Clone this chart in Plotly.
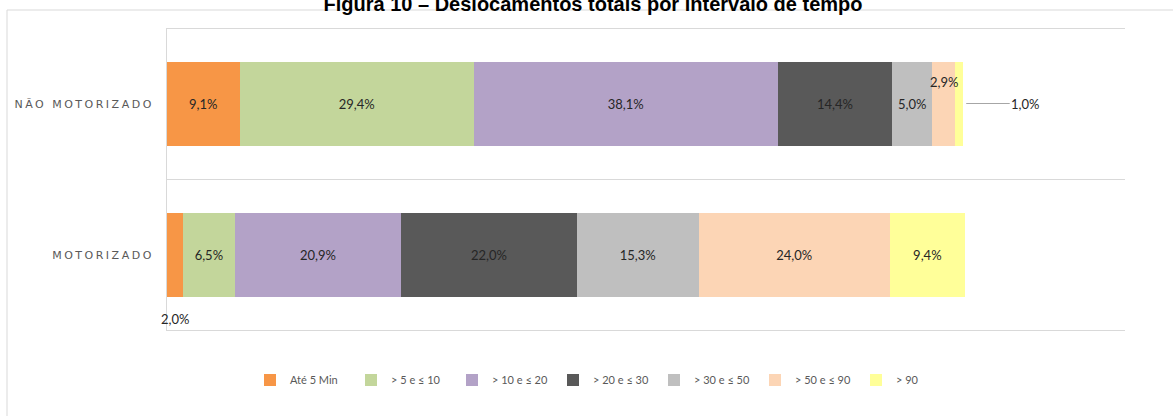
import plotly.graph_objects as go

# ---------------- data ----------------
title_text = "Figura 10 – Deslocamentos totais por intervalo de tempo"
categories = ["MOTORIZADO", "NÃO MOTORIZADO"]          # bottom -> top
series_names = ["Até 5 Min", "> 5 e ≤ 10", "> 10 e ≤ 20", "> 20 e ≤ 30",
                "> 30 e ≤ 50", "> 50 e ≤ 90", "> 90"]
motorizado = [2.0, 6.5, 20.9, 22.0, 15.3, 24.0, 9.4]
nao_motorizado = [9.1, 29.4, 38.1, 14.4, 5.0, 2.9, 1.0]
colors = ["#F79646", "#C3D69B", "#B3A2C7", "#595959", "#BFBFBF", "#FCD5B5", "#FFFF99"]

# labels placed outside their (thin) segments: (category index, series index) -> style
outside_labels = {
    (0, 0): dict(kind="below"),
    (1, 5): dict(kind="above"),
    (1, 6): dict(kind="right"),
}

values_by_cat = [motorizado, nao_motorizado]
ypos = list(range(len(categories)))


def fmt(v):
    return f"{v:.1f}%".replace(".", ",")


# ---------------- layout geometry (pixels) ----------------
W, H = 1173, 416
L, R, T, B = 167, 48, 29, 86
pw, ph = W - L - R, H - T - B

label_font = dict(family="Lato", size=13, color="#262626")

fig = go.Figure()
for j, name in enumerate(series_names):
    xs = [values_by_cat[i][j] for i in ypos]
    texts = ["" if (i, j) in outside_labels else fmt(values_by_cat[i][j]) for i in ypos]
    fig.add_trace(go.Bar(
        y=ypos, x=xs, orientation="h", name=name,
        marker=dict(color=colors[j], line=dict(width=0)),
        text=texts, textposition="inside", insidetextanchor="middle",
        textangle=0, constraintext="none",
        textfont=label_font,
        width=0.56,
    ))

annotations = []
for (i, j), st in outside_labels.items():
    vals = values_by_cat[i]
    start = sum(vals[:j])
    center = start + vals[j] / 2
    end = start + vals[j]
    if st["kind"] == "below":
        annotations.append(dict(x=center, y=ypos[i] - 0.43, xref="x", yref="y",
                                text=fmt(vals[j]), showarrow=False, font=label_font))
    elif st["kind"] == "above":
        annotations.append(dict(x=center, y=ypos[i] + 0.147, xref="x", yref="y",
                                text=fmt(vals[j]), showarrow=False, font=label_font))
    else:
        annotations.append(dict(x=end, y=ypos[i] + 0.005, xref="x", yref="y",
                                text=fmt(vals[j]), showarrow=True, arrowhead=0,
                                arrowwidth=1, arrowcolor="#a6a6a6", standoff=3,
                                ax=62, ay=0, font=label_font))

# outer frame of the chart area
fx0 = (7 - L) / pw
fx1 = (W + 10 - L) / pw
fy1 = 1 + (T - 10) / ph
fy0 = -(H + 10 - (H - B)) / ph

fig.update_layout(
    width=W, height=H,
    margin=dict(l=L, r=R, t=T, b=B),
    paper_bgcolor="white", plot_bgcolor="white",
    barmode="stack",
    title=dict(text=f"<b>{title_text}</b>", x=(593 - L) / pw, xanchor="center",
               xref="paper", y=1 - 4 / H, yanchor="middle", yref="container",
               font=dict(family="Liberation Sans", size=20, color="#000000")),
    xaxis=dict(range=[0, 120.2], showgrid=False, zeroline=False,
               showticklabels=False, ticks="", showline=True, mirror=True,
               linecolor="#d9d9d9", linewidth=1, fixedrange=True),
    yaxis=dict(range=[-0.5, 1.5], tickvals=ypos, ticktext=categories,
               showgrid=False, zeroline=False, showline=True,
               linecolor="#d9d9d9", linewidth=1, ticks="",
               ticklabelstandoff=10,
               tickfont=dict(family="DejaVu Sans", size=11, color="#595959"),
               minor=dict(showgrid=True, gridcolor="#d9d9d9", gridwidth=1,
                          tick0=0.5, dtick=1, ticks="")),
    legend=dict(orientation="h", x=(250 - L) / pw, xanchor="left",
                y=-(380 - (H - B)) / ph, yanchor="middle",
                font=dict(family="Lato", size=11, color="#595959"),
                itemwidth=30, entrywidth=56, traceorder="normal",
                bgcolor="rgba(0,0,0,0)"),
    annotations=annotations,
    shapes=[dict(type="rect", xref="paper", yref="paper",
                 x0=fx0, x1=fx1, y0=fy0, y1=fy1,
                 line=dict(color="#d9d9d9", width=1), fillcolor="rgba(0,0,0,0)",
                 layer="below")],
    showlegend=True,
)

post = """
document.body.style.margin = '0px';
var gd = document.getElementById('{plot_id}');
function spaceTicks() {
  gd.querySelectorAll('.ytick text').forEach(function (t) { t.style.letterSpacing = '2.5px'; });
}
spaceTicks();
gd.on('plotly_afterplot', spaceTicks);
"""

fig.write_html("out.html", post_script=post, config={"displayModeBar": False})
